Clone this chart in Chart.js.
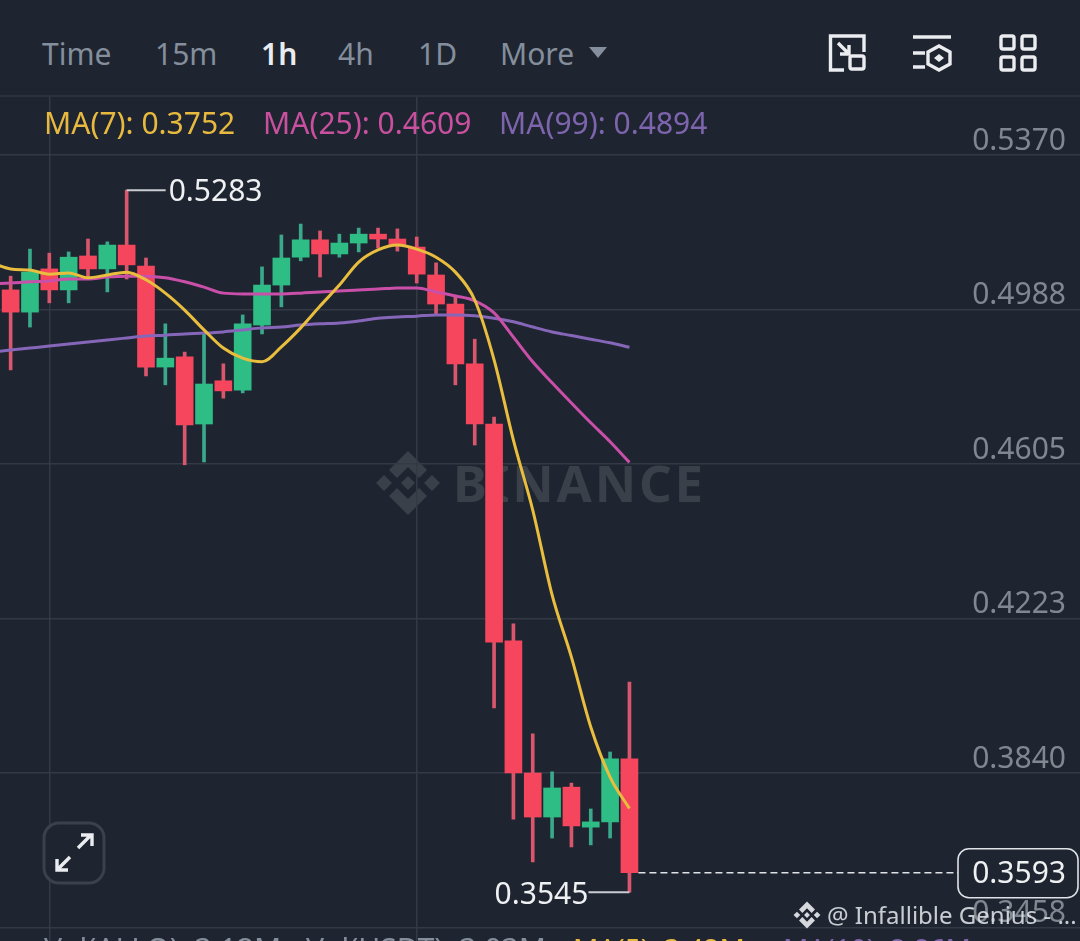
<!DOCTYPE html>
<html>
<head>
<meta charset="utf-8">
<script src="https://cdn.jsdelivr.net/npm/chart.js@4/dist/chart.umd.min.js"></script>
<style>
html,body{margin:0;padding:0;background:#1e2530;width:1080px;height:941px;overflow:hidden;font-family:"Noto Sans",sans-serif}
#wrap{position:relative;width:1080px;height:941px;overflow:hidden;background:#1e2530}
canvas{position:absolute;left:0;top:0;z-index:2}
.t{position:absolute;white-space:nowrap;line-height:40px;height:40px}
#head{position:absolute;left:0;top:0;width:1080px;height:95px;background:#1e2530;border-bottom:2px solid #2c323d;z-index:3}
#head .t{top:34px;font-size:30px;color:#848e9c}
#ma .t{top:103px;font-size:30px;z-index:4}
#mark{position:absolute;left:0;top:0;z-index:1}
#mark .b{position:absolute;left:453px;top:447px;font-size:51px;font-weight:700;color:#3a404a;letter-spacing:2.8px;line-height:70px}
#top{position:absolute;left:0;top:0;z-index:5}
#vol .t{top:929px;z-index:4}
</style>
</head>
<body>
<div id="wrap">
  <div id="mark">
    <svg width="1080" height="941" style="position:absolute;left:0;top:0">
      <g fill="#3a404a" transform="translate(408,483) scale(1)">
        <polygon points="0,-7 7,0 0,7 -7,0"/>
        <polygon points="-32,0 -24,-8 -16,0 -24,8"/>
        <polygon points="32,0 24,-8 16,0 24,8"/>
        <polygon points="0,-32 19,-13 11,-5 0,-16 -11,-5 -19,-13"/>
        <polygon points="0,32 19,13 11,5 0,16 -11,5 -19,13"/>
      </g>
    </svg>
    <div class="b">BINANCE</div>
  </div>

  <canvas id="c" width="1080" height="941"></canvas>

  <div id="head">
    <span class="t" style="left:42px">Time</span>
    <span class="t" style="left:155px">15m</span>
    <span class="t" style="left:261px;color:#eaecef;font-weight:600">1h</span>
    <span class="t" style="left:338px">4h</span>
    <span class="t" style="left:418px">1D</span>
    <span class="t" style="left:500px">More</span>
    <svg width="1080" height="95" style="position:absolute;left:0;top:0">
      <polygon points="589,47 607,47 598,58" fill="#848e9c"/>
      <g fill="none" stroke="#eaecef" stroke-width="3.4">
        <path d="M844,70 H830.5 V36 H864 V52"/>
        <rect x="850" y="56" width="14" height="13" rx="2"/>
        <path d="M838,43 L849,54 M849,45 V54 H840"/>
        <path d="M913,37 H951"/>
        <path d="M913,53 H925 M913,67 H925"/>
        <polygon points="939,46 950,52 950,64 939,70 928,64 928,52"/>
        <rect x="1001" y="36" width="13" height="13" rx="2"/>
        <rect x="1022" y="36" width="13" height="13" rx="2"/>
        <rect x="1001" y="57" width="13" height="13" rx="2"/>
        <rect x="1022" y="57" width="13" height="13" rx="2"/>
      </g>
      <polygon points="939,54 944,58 939,62 934,58" fill="#eaecef"/>
    </svg>
  </div>

  <div id="ma">
    <span class="t" style="left:44px;color:#e8b93f">MA(7): 0.3752</span>
    <span class="t" style="left:263px;color:#c9509f">MA(25): 0.4609</span>
    <span class="t" style="left:499px;color:#7d64ad">MA(99): 0.4894</span>
  </div>

  <div id="vol">
    <span class="t" style="left:44px;font-size:30px;color:#848e9c">Vol(ALLO): 3.12M</span>
    <span class="t" style="left:306px;font-size:30px;color:#848e9c">Vol(USDT): 3.03M</span>
    <span class="t" style="left:573px;top:928px;font-size:28px;color:#e8b93f">MA(5): 3.42M</span>
    <span class="t" style="left:783px;top:928px;font-size:28px;color:#7d64ad">MA(10): 2.86M</span>
  </div>

  <div id="top">
    <svg width="1080" height="941" style="position:absolute;left:0;top:0">
      <rect x="44" y="823" width="60" height="60" rx="15" fill="#1e2530" stroke="#3b414c" stroke-width="3"/>
      <g fill="none" stroke="#eaecef" stroke-width="3.4">
        <path d="M78,848 L91,835 M81,835 H92 V846"/>
        <path d="M70,857 L57,870 M57,859 V870 H68"/>
      </g>
      <g fill="#d5d8dc" transform="translate(807,915) scale(.42)">
        <polygon points="0,-7 7,0 0,7 -7,0"/>
        <polygon points="-32,0 -24,-8 -16,0 -24,8"/>
        <polygon points="32,0 24,-8 16,0 24,8"/>
        <polygon points="0,-32 19,-13 11,-5 0,-16 -11,-5 -19,-13"/>
        <polygon points="0,32 19,13 11,5 0,16 -11,5 -19,13"/>
      </g>
    </svg>
    <span class="t" style="left:827px;top:895px;font-size:24px;color:rgba(225,228,232,.88)">@ Infallible Genius - ...</span>
  </div>
</div>

<script>
const candleIndex = [0,1,2,3,4,5,6,7,8,9,10,11,12,13,14,15,16,17,18,19,20,21,22,23,24,25,26,27,28,29,30,31,32];
const opens  = [.5036,.4981,.5088,.5036,.5120,.5088,.5147,.5095,.4845,.4870,.4704,.4811,.4788,.4949,.5048,.5117,.5160,.5125,.5152,.5174,.5162,.5142,.5073,.5001,.4853,.4704,.4167,.3840,.3731,.3805,.3706,.3719,.3875];
const highs  = [.5070,.5137,.5127,.5130,.5162,.5155,.5283,.5115,.4952,.4882,.4929,.4853,.4974,.5093,.5172,.5199,.5182,.5174,.5189,.5189,.5187,.5167,.5103,.5023,.4914,.4721,.4209,.3937,.3843,.3815,.3751,.3892,.4065];
const lows   = [.4838,.4944,.5004,.5004,.5066,.5031,.5063,.4823,.4801,.4603,.4610,.4768,.4781,.4927,.4994,.5108,.5068,.5117,.5130,.5140,.5132,.5053,.4974,.4801,.4652,.4001,.3726,.3620,.3679,.3657,.3662,.3679,.3545];
const closes = [.4981,.5080,.5036,.5117,.5088,.5147,.5098,.4845,.4867,.4702,.4803,.4786,.4952,.5048,.5115,.5160,.5125,.5152,.5174,.5162,.5145,.5075,.5001,.4853,.4704,.4164,.3840,.3731,.3803,.3709,.3719,.3875,.3593];

const maIndex = [-1,0,1,2,3,4,5,6,7,8,9,10,11,12,13,14,15,16,17,18,19,20,21,22,23,24,25,26,27,28,29,30,31,32];
const ma7  = [.5103,.5088,.5085,.5075,.5078,.5066,.5073,.5080,.5061,.5028,.4986,.4937,.4892,.4867,.4858,.4895,.4942,.4996,.5048,.5105,.5135,.5147,.5137,.5117,.5080,.5011,.4863,.4664,.4491,.4281,.4127,.3954,.3830,.3752];
const ma25 = [.5051,.5053,.5056,.5058,.5063,.5063,.5068,.5070,.5070,.5066,.5056,.5043,.5028,.5026,.5026,.5026,.5028,.5031,.5033,.5036,.5038,.5041,.5041,.5031,.5021,.5009,.4979,.4919,.4858,.4806,.4756,.4707,.4660,.4609];
const ma99 = [.4882,.4887,.4892,.4897,.4902,.4907,.4912,.4917,.4922,.4924,.4927,.4929,.4932,.4937,.4942,.4944,.4949,.4952,.4954,.4959,.4966,.4969,.4971,.4974,.4974,.4972,.4966,.4957,.4944,.4932,.4923,.4914,.4905,.4894];

const priceTicks = [.5370,.4988,.4605,.4223,.3840,.3458];
const timeGridIndex = [2,21];
const highPrice = .5283, highAt = 6;
const lowPrice = .3545, lowAt = 32;
const lastPrice = .3593;

const RED = '#f6465d', GREEN = '#2ebd85', RED_WICK = '#d9566c', GREEN_WICK = '#3aa88a';
const isUp = i => closes[i] >= opens[i];

const annotate = {
  id: 'annotate',
  afterDatasetsDraw(chart) {
    const {ctx, scales:{x, y}} = chart;
    ctx.save();
    ctx.strokeStyle = '#c9ccd1'; ctx.lineWidth = 2;
    ctx.fillStyle = '#eef0f2';
    ctx.font = '30px "Noto Sans", sans-serif';
    ctx.textBaseline = 'middle';
    const hx = x.getPixelForValue(highAt), hy = y.getPixelForValue(highPrice);
    ctx.beginPath(); ctx.moveTo(hx, hy); ctx.lineTo(hx + 39, hy); ctx.stroke();
    ctx.textAlign = 'left';
    ctx.fillText(highPrice.toFixed(4), hx + 42, hy + 2);
    const lx = x.getPixelForValue(lowAt), ly = y.getPixelForValue(lowPrice);
    ctx.beginPath(); ctx.moveTo(lx, ly); ctx.lineTo(lx - 41, ly); ctx.stroke();
    ctx.textAlign = 'right';
    ctx.fillText(lowPrice.toFixed(4), lx - 41, ly + 3);
    const py = y.getPixelForValue(lastPrice);
    ctx.setLineDash([7, 4]); ctx.lineWidth = 1.6; ctx.strokeStyle = '#dfe2e6';
    ctx.beginPath(); ctx.moveTo(lx + 9, py); ctx.lineTo(958, py); ctx.stroke();
    ctx.setLineDash([]);
    ctx.fillStyle = '#1e2530'; ctx.strokeStyle = '#dfe2e6'; ctx.lineWidth = 1.6;
    ctx.beginPath(); ctx.roundRect(958, py - 24, 120, 49, 11); ctx.fill(); ctx.stroke();
    ctx.fillStyle = '#eef0f2'; ctx.textAlign = 'right';
    ctx.fillText(lastPrice.toFixed(4), 1066, py + 2);
    ctx.restore();
  }
};

const lineDS = (values, color, order) => ({
  type: 'line',
  data: maIndex.map((m, i) => ({x: m, y: values[i]})),
  borderColor: color, borderWidth: 3, pointRadius: 0,
  cubicInterpolationMode: 'monotone', fill: false, order
});

const flatten = s => { s.paddingTop = s.paddingBottom = s.paddingLeft = s.paddingRight = 0; };

new Chart(document.getElementById('c'), {
  data: {
    datasets: [
      { type: 'bar', order: 5, grouped: false, barThickness: 3,
        data: candleIndex.map(i => ({x: i, y: [lows[i], highs[i]]})),
        backgroundColor: candleIndex.map(i => isUp(i) ? GREEN_WICK : RED_WICK) },
      { type: 'bar', order: 4, grouped: false, barThickness: 17,
        data: candleIndex.map(i => ({x: i, y: [opens[i], closes[i]]})),
        backgroundColor: candleIndex.map(i => isUp(i) ? GREEN : RED) },
      lineDS(ma99, '#8666b8', 3),
      lineDS(ma25, '#c94fa9', 2),
      lineDS(ma7, '#e9bd3d', 1)
    ]
  },
  options: {
    responsive: false,
    animation: false,
    devicePixelRatio: 1,
    layout: {padding: 0},
    plugins: {legend: {display: false}, tooltip: {enabled: false}},
    scales: {
      x: {
        type: 'linear', min: -0.55, max: 55.30, display: true, offset: false,
        afterBuildTicks(s) { s.ticks = timeGridIndex.map(v => ({value: v})); },
        afterFit(s) { flatten(s); s.height = 0; },
        ticks: {display: false},
        border: {display: false},
        grid: {color: '#343a45', lineWidth: 1.5, drawTicks: false, offset: false}
      },
      y: {
        type: 'linear', position: 'right', min: .34241, max: .57537, offset: false,
        afterBuildTicks(s) { s.ticks = priceTicks.map(v => ({value: v})); },
        afterFit(s) { flatten(s); s.width = 0; },
        border: {display: false},
        grid: {color: '#343a45', lineWidth: 1.5, drawTicks: false},
        ticks: {
          mirror: true, padding: -14, labelOffset: -14,
          color: '#7f8791',
          font: {family: '"Noto Sans", sans-serif', size: 30},
          callback: v => Number(v).toFixed(4)
        }
      }
    }
  },
  plugins: [annotate]
});
</script>
</body>
</html>
